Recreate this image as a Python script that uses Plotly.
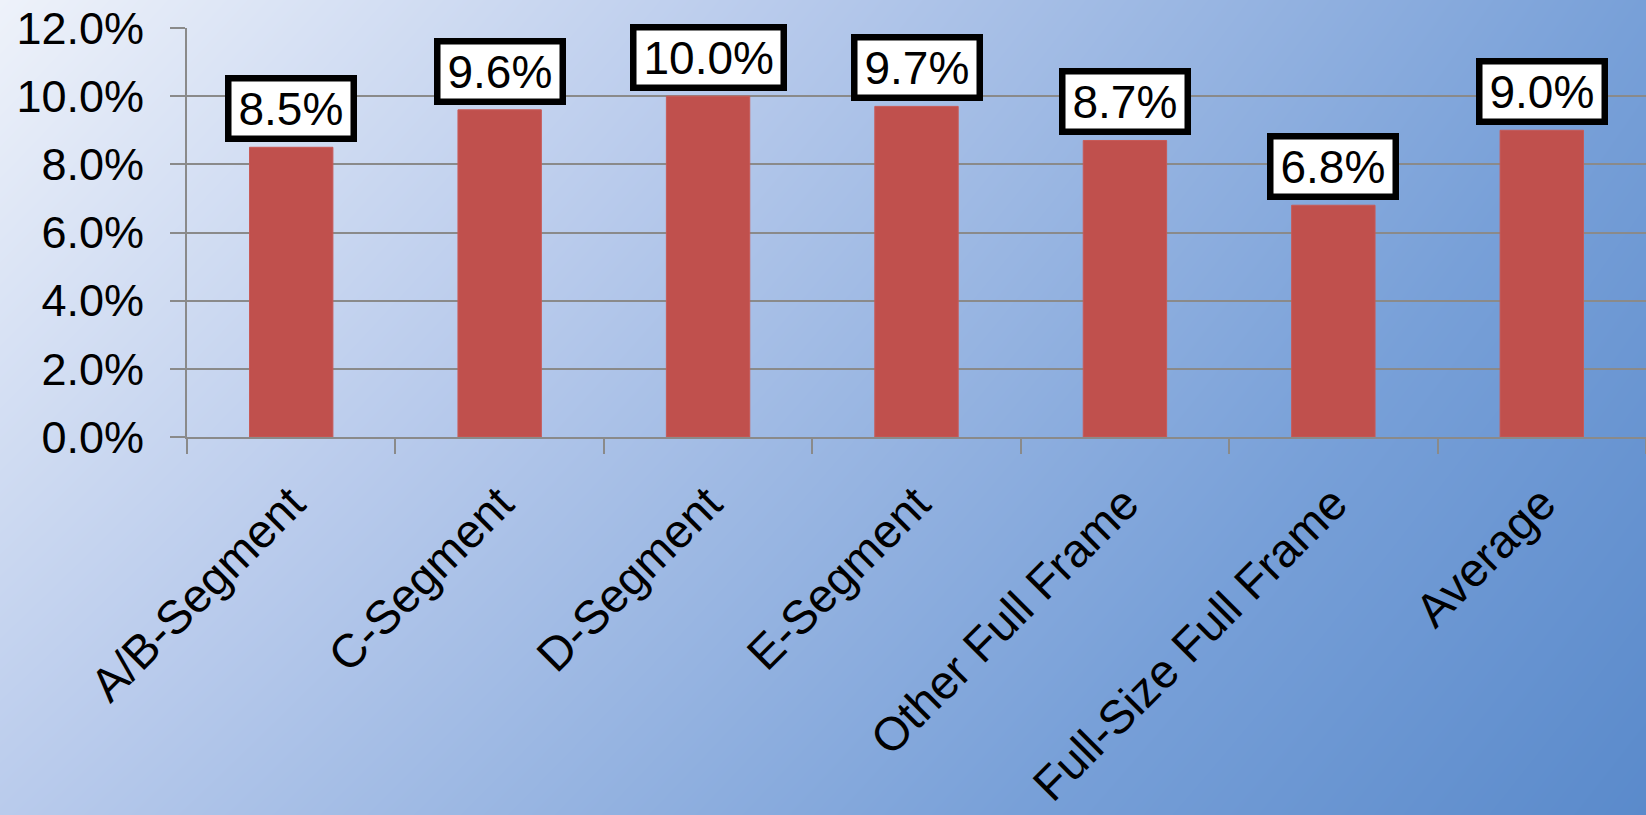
import plotly.graph_objects as go

# Share of vehicles per segment
categories = [
    "A/B-Segment",
    "C-Segment",
    "D-Segment",
    "E-Segment",
    "Other Full Frame",
    "Full-Size Full Frame",
    "Average",
]
rates = [0.085, 0.096, 0.100, 0.097, 0.087, 0.068, 0.090]
y_tick_values = [0.0, 0.02, 0.04, 0.06, 0.08, 0.10, 0.12]

FONT = "Liberation Sans, Arial, sans-serif"
LABEL_SIZE = 46
XTICK_SIZE = 47
YTICK_SIZE = 45
BAR_COLOR = "#c0504d"
GRID_COLOR = "#8a8a8a"

# Arial advance widths (em) for the characters used in the value labels
ADV = {"0": 0.556, "1": 0.556, "2": 0.556, "3": 0.556, "4": 0.556, "5": 0.556,
       "6": 0.556, "7": 0.556, "8": 0.556, "9": 0.556, ".": 0.278, "%": 0.889}


def label_text(v):
    return f"{v * 100:.1f}%"


def text_width(s):
    return sum(ADV.get(c, 0.556) for c in s) * LABEL_SIZE


fig = go.Figure()

# Diagonal gradient backdrop on a full-page subplot (x / y)
fig.add_trace(go.Heatmap(
    x=[0, 1], y=[0, 1],
    z=[[0.35, 1.0], [0.0, 0.75]],
    zmin=0, zmax=1,
    zsmooth="best",
    colorscale=[[0.0, "#eef2fa"], [0.35, "#b9cbec"], [0.75, "#78a0d8"], [1.0, "#5a8acb"]],
    showscale=False,
    hoverinfo="skip",
    xaxis="x", yaxis="y",
))

# Bars on the chart subplot (x2 / y2)
fig.add_trace(go.Bar(
    x=categories, y=rates,
    marker=dict(color=BAR_COLOR, line=dict(color="#c85a57", width=1)),
    xaxis="x2", yaxis="y2",
    hoverinfo="skip",
))

annotations = []
for c, v in zip(categories, rates):
    t = label_text(v)
    annotations.append(dict(
        x=c, y=v, xref="x2", yref="y2",
        text=t, showarrow=False,
        yanchor="bottom", yshift=5,
        font=dict(family=FONT, size=LABEL_SIZE, color="black"),
        bgcolor="white", bordercolor="black",
        borderwidth=6.5, borderpad=1,
        width=text_width(t) + 12,
    ))

x0 = 187 / 1646
y_bottom = (815 - 437) / 815
y_top = (815 - 28) / 815

fig.update_layout(
    width=1646, height=815, autosize=False,
    margin=dict(l=0, r=0, t=0, b=0, pad=0, autoexpand=False),
    paper_bgcolor="#dfe7f5",
    plot_bgcolor="rgba(0,0,0,0)",
    showlegend=False,
    bargap=0.6,
    font=dict(family=FONT, size=LABEL_SIZE, color="black"),
    xaxis=dict(domain=[0, 1], range=[0, 1], visible=False, fixedrange=True),
    yaxis=dict(domain=[0, 1], range=[0, 1], visible=False, fixedrange=True),
    xaxis2=dict(
        domain=[x0, 1], anchor="y2",
        type="category",
        automargin=False,
        tickangle=-45,
        tickson="boundaries",
        ticks="outside", ticklen=15, tickwidth=2, tickcolor=GRID_COLOR,
        showline=True, linecolor=GRID_COLOR, linewidth=2,
        showgrid=False,
        tickfont=dict(family=FONT, size=XTICK_SIZE, color="black"),
        ticklabelstandoff=18,
    ),
    yaxis2=dict(
        domain=[y_bottom, y_top], anchor="x2",
        automargin=False,
        range=[0, 0.12],
        tickvals=y_tick_values,
        tickformat=".1%",
        ticks="outside", ticklen=15, tickwidth=2, tickcolor=GRID_COLOR,
        showline=True, linecolor=GRID_COLOR, linewidth=2,
        showgrid=True, gridcolor=GRID_COLOR, gridwidth=2,
        zeroline=False,
        tickfont=dict(family=FONT, size=YTICK_SIZE, color="black"),
        ticklabelstandoff=17,
    ),
    annotations=annotations,
)

fig.write_html("out.html")
